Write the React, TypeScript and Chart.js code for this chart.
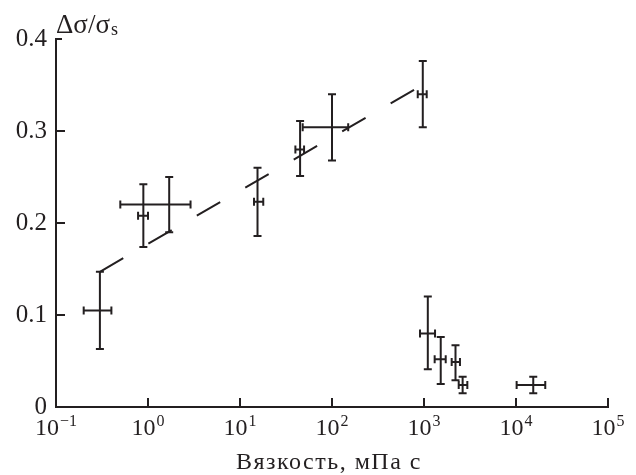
import React, { useEffect, useRef } from "react";
import { Chart, registerables } from "chart.js";

Chart.register(...registerables);

const viscosity = [0.3, 0.89, 1.7, 15.5, 45, 100, 970, 1100, 1520, 2200, 2630, 15400];
const viscLow = [0.2, 0.78, 0.5, 14.2, 40, 48, 855, 905, 1306, 2000, 2384, 10160];
const viscHigh = [0.4, 1.0, 2.9, 17.9, 49.7, 150, 1070, 1318, 1722, 2460, 2958, 20800];
const ratio = [0.105, 0.208, 0.22, 0.223, 0.28, 0.304, 0.34, 0.08, 0.052, 0.049, 0.024, 0.024];
const ratioLow = [0.063, 0.174, 0.19, 0.186, 0.251, 0.268, 0.304, 0.041, 0.025, 0.029, 0.015, 0.015];
const ratioHigh = [0.147, 0.242, 0.25, 0.26, 0.311, 0.34, 0.376, 0.12, 0.076, 0.067, 0.033, 0.033];
const trendX = [0.3, 820];
const trendY = [0.147, 0.346];
const xTicks = [0.1, 1, 10, 100, 1000, 10000, 100000];
const xTickBase = "10";
const xTickExponents = ["−1", "0", "1", "2", "3", "4", "5"];
const yTicks = [0, 0.1, 0.2, 0.3, 0.4];
const xTitle = "Вязкость, мПа с";
const yTitleMain = "Δσ/σ";
const yTitleSub = "s";

const INK = "#231f20";
const FONT = "'Liberation Serif', 'Times New Roman', serif";

const errorBarPlugin = {
  id: "errorBars",
  afterDatasetsDraw(chart: any) {
    const ctx = chart.ctx;
    const xs = chart.scales.x;
    const ys = chart.scales.y;
    ctx.save();
    ctx.strokeStyle = INK;
    ctx.lineWidth = 2;
    const cap = 4;
    for (let i = 0; i < viscosity.length; i++) {
      const cx = xs.getPixelForValue(viscosity[i]);
      const cy = ys.getPixelForValue(ratio[i]);
      const x1 = xs.getPixelForValue(viscLow[i]);
      const x2 = xs.getPixelForValue(viscHigh[i]);
      const y1 = ys.getPixelForValue(ratioLow[i]);
      const y2 = ys.getPixelForValue(ratioHigh[i]);
      ctx.beginPath();
      ctx.moveTo(cx, y1);
      ctx.lineTo(cx, y2);
      ctx.moveTo(cx - cap, y1);
      ctx.lineTo(cx + cap, y1);
      ctx.moveTo(cx - cap, y2);
      ctx.lineTo(cx + cap, y2);
      ctx.moveTo(x1, cy);
      ctx.lineTo(x2, cy);
      ctx.moveTo(x1, cy - cap);
      ctx.lineTo(x1, cy + cap);
      ctx.moveTo(x2, cy - cap);
      ctx.lineTo(x2, cy + cap);
      ctx.stroke();
    }
    ctx.restore();
  },
  afterDraw(chart: any) {
    const ctx = chart.ctx;
    const xs = chart.scales.x;
    const ys = chart.scales.y;
    const area = chart.chartArea;
    ctx.save();
    ctx.strokeStyle = INK;
    ctx.lineWidth = 2;
    ctx.beginPath();
    for (const v of xTicks) {
      const px = xs.getPixelForValue(v);
      ctx.moveTo(px, area.bottom);
      ctx.lineTo(px, area.bottom - 9);
    }
    for (const v of yTicks) {
      if (v === 0) continue;
      const py = ys.getPixelForValue(v);
      ctx.moveTo(area.left, py);
      ctx.lineTo(area.left + (v === 0.4 ? 6 : 9), py);
    }
    ctx.stroke();
    ctx.fillStyle = INK;
    ctx.textBaseline = "alphabetic";
    ctx.textAlign = "left";
    // x tick labels: 10 with superscript exponent
    for (let i = 0; i < xTicks.length; i++) {
      const px = xs.getPixelForValue(xTicks[i]);
      ctx.font = `24px ${FONT}`;
      const wb = ctx.measureText(xTickBase).width;
      ctx.font = `16px ${FONT}`;
      const we = ctx.measureText(xTickExponents[i]).width;
      const start = px - (wb + we + 1) / 2;
      ctx.font = `24px ${FONT}`;
      ctx.fillText(xTickBase, start, area.bottom + 28);
      ctx.font = `16px ${FONT}`;
      ctx.fillText(xTickExponents[i], start + wb + 1, area.bottom + 19);
    }
    // y title
    ctx.font = `27px ${FONT}`;
    ctx.fillText(yTitleMain, 56, 33);
    const w = ctx.measureText(yTitleMain).width;
    ctx.font = `18px ${FONT}`;
    ctx.fillText(yTitleSub, 56 + w + 1, 35);
    // x title
    ctx.font = `24px ${FONT}`;
    ctx.textAlign = "center";
    (ctx as any).letterSpacing = "1.5px";
    ctx.fillText(xTitle, 329, 469);
    ctx.restore();
  },
};

export default function App() {
  const ref = useRef<HTMLCanvasElement>(null);
  useEffect(() => {
    if (!ref.current) return;
    const chart = new Chart(ref.current, {
      type: "scatter",
      data: {
        datasets: [
          {
            type: "line",
            data: trendX.map((x, i) => ({ x, y: trendY[i] })),
            borderColor: INK,
            borderWidth: 2,
            borderDash: [27, 29],
            pointRadius: 0,
            fill: false,
          },
          {
            data: viscosity.map((x, i) => ({ x, y: ratio[i] })),
            pointRadius: 0,
            borderColor: INK,
            backgroundColor: INK,
          },
        ],
      },
      options: {
        responsive: false,
        animation: false,
        layout: { padding: { top: 39, right: 28, left: 0, bottom: 0 } },
        plugins: { legend: { display: false }, tooltip: { enabled: false } },
        scales: {
          x: {
            type: "logarithmic",
            min: 0.1,
            max: 100000,
            afterBuildTicks(scale: any) {
              scale.ticks = xTicks.map((v) => ({ value: v }));
            },
            afterFit(scale: any) {
              scale.height = 68;
            },
            grid: { display: false, drawTicks: false },
            border: { display: true, color: INK, width: 2 },
            ticks: { display: false },
          },
          y: {
            min: 0,
            max: 0.4,
            afterBuildTicks(scale: any) {
              scale.ticks = yTicks.map((v) => ({ value: v }));
            },
            afterFit(scale: any) {
              scale.width = 56;
            },
            grid: { display: false, drawTicks: false },
            border: { display: true, color: INK, width: 2 },
            ticks: {
              padding: 9,
              color: INK,
              font: { family: FONT, size: 25 },
              callback: (v: any) => (Number(v) === 0 ? "0" : Number(v).toFixed(1)),
            },
          },
        },
      },
      plugins: [errorBarPlugin],
    });
    return () => chart.destroy();
  }, []);
  return (
    <div style={{ position: "absolute", left: 0, top: 0, width: 636, height: 475, background: "#fff" }}>
      <canvas ref={ref} width={636} height={475} />
    </div>
  );
}
